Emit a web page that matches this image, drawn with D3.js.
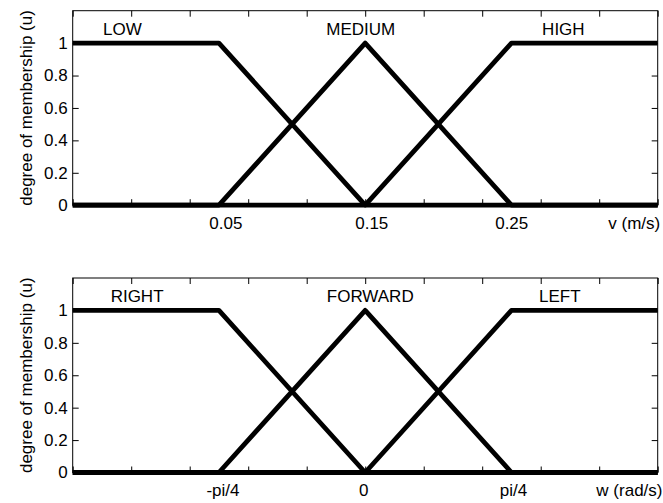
<!DOCTYPE html>
<meta charset="utf-8">
<script src="https://d3js.org/d3.v7.min.js"></script>
<style>
    body { margin: 0; background: #fff; }
    text { font-family: "Liberation Sans", Arial, sans-serif; font-size: 17px; fill: #000; }
</style>
<div id="chart"></div>
<script>
    // membership functions for linear velocity v (m/s)
    const vPoints = [-0.05, 0.05, 0.15, 0.25, 0.35];
    const vLow = [1, 1, 0, 0, 0];
    const vMedium = [0, 0, 1, 0, 0];
    const vHigh = [0, 0, 0, 1, 1];
    const vSetNames = ["LOW", "MEDIUM", "HIGH"];
    const vSetAt = [-0.016, 0.147, 0.2855];
    const vTicks = [-0.05, -0.01, 0.03, 0.07, 0.11, 0.15, 0.19, 0.23, 0.27, 0.31, 0.35];
    const vTickText = ["0.05", "0.15", "0.25", "v (m/s)"];
    const vTickAt = [0.0547, 0.1545, 0.2502, 0.334];

    // membership functions for angular velocity w (rad/s)
    const wPoints = [-1.5708, -0.7854, 0, 0.7854, 1.5708];
    const wRight = [1, 1, 0, 0, 0];
    const wForward = [0, 0, 1, 0, 0];
    const wLeft = [0, 0, 0, 1, 1];
    const wSetNames = ["RIGHT", "FORWARD", "LEFT"];
    const wSetAt = [-1.225, 0.027, 1.045];
    const wTicks = [-1.5708, -1.2566, -0.9425, -0.6283, -0.3142, 0, 0.3142, 0.6283, 0.9425, 1.2566, 1.5708];
    const wTickText = ["-pi/4", "0", "pi/4", "w (rad/s)"];
    const wTickAt = [-0.764, -0.008, 0.796, 1.419];

    const yTicks = [0, 0.2, 0.4, 0.6, 0.8, 1];
    const yLabel = "degree of membership (u)";
    const setLabelY = 1.09;

    const W = 663, H = 503;
    const left = 72.7, plotW = 585, plotH = 194.5;

    const svg = d3.select("#chart")
        .append("svg")
        .attr("width", W)
        .attr("height", H);

    function panel(top, xs, series, names, namesAt, ticks, tickText, tickAt) {
        const x = d3.scaleLinear()
            .domain([xs[0], xs[xs.length - 1]])
            .range([0, plotW]);
        const y = d3.scaleLinear()
            .domain([0, 1.2])
            .range([plotH, 0]);

        const g = svg.append("g")
            .attr("transform", `translate(${left}, ${top})`);

        // box
        g.append("rect")
            .attr("width", plotW)
            .attr("height", plotH)
            .attr("fill", "none")
            .attr("stroke", "#000")
            .attr("stroke-width", 1);

        // inside ticks on all four sides
        const tl = 6;
        g.append("g").call(d3.axisBottom(x).tickValues(ticks).tickSize(-tl).tickFormat(""))
            .attr("transform", `translate(0, ${plotH})`);
        g.append("g").call(d3.axisTop(x).tickValues(ticks).tickSize(-tl).tickFormat(""));
        g.append("g").call(d3.axisLeft(y).tickValues(yTicks).tickSize(-tl).tickPadding(5)
                .tickFormat(d3.format("~g")));
        g.append("g").call(d3.axisRight(y).tickValues(yTicks).tickSize(-tl).tickFormat(""))
            .attr("transform", `translate(${plotW}, 0)`);
        g.selectAll(".domain").remove();
        g.selectAll(".tick line").attr("stroke", "#000");
        g.selectAll(".tick text").attr("font-size", null).attr("font-family", null);

        // membership lines
        const line = d3.line()
            .x(d => x(d[0]))
            .y(d => y(d[1]));
        series.forEach(s => {
            g.append("path")
                .datum(xs.map((v, i) => [v, s[i]]))
                .attr("d", line)
                .attr("fill", "none")
                .attr("stroke", "#000")
                .attr("stroke-width", 4.8)
                .attr("stroke-linejoin", "round");
        });

        // set names
        g.selectAll(".setname")
            .data(names)
            .join("text")
            .attr("x", (d, i) => x(namesAt[i]))
            .attr("y", y(setLabelY))
            .attr("dy", "0.36em")
            .attr("text-anchor", "middle")
            .text(d => d);

        // hand placed x labels
        g.selectAll(".xlab")
            .data(tickText)
            .join("text")
            .attr("x", (d, i) => x(tickAt[i]))
            .attr("y", plotH + 23.5)
            .attr("text-anchor", "middle")
            .text(d => d);

        // y label
        g.append("text")
            .attr("transform", `translate(-47, ${plotH / 2}) rotate(-90)`)
            .attr("dy", "0.35em")
            .attr("text-anchor", "middle")
            .text(yLabel);
    }

    panel(10.7, vPoints, [vLow, vMedium, vHigh], vSetNames, vSetAt, vTicks, vTickText, vTickAt);
    panel(278, wPoints, [wRight, wForward, wLeft], wSetNames, wSetAt, wTicks, wTickText, wTickAt);
</script>
